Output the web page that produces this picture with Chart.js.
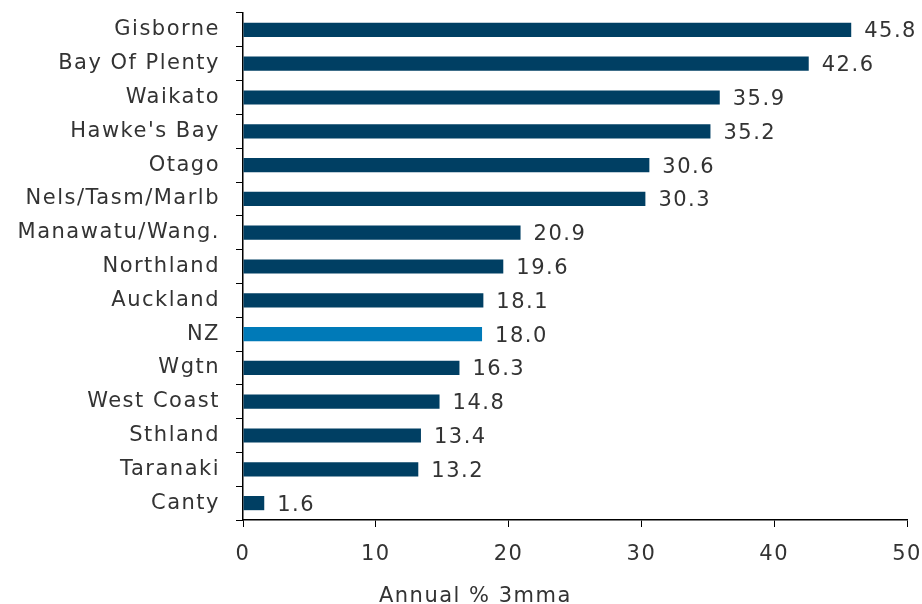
<!DOCTYPE html>
<html>
<head>
<meta charset="utf-8">
<script src="https://cdn.jsdelivr.net/npm/chart.js@4"></script>
<style>
  html, body { margin: 0; padding: 0; background: #fff; }
  #wrap { width: 922px; height: 604px; }
</style>
</head>
<body>
<div id="wrap"><canvas id="chart"></canvas></div>
<script>
// ─── Dados ──────────────────────────────────────────────
const regions = ['Gisborne', 'Bay Of Plenty', 'Waikato', "Hawke's Bay", 'Otago',
  'Nels/Tasm/Marlb', 'Manawatu/Wang.', 'Northland', 'Auckland', 'NZ', 'Wgtn',
  'West Coast', 'Sthland', 'Taranaki', 'Canty'];
const growth = [45.8, 42.6, 35.9, 35.2, 30.6, 30.3, 20.9, 19.6, 18.1, 18.0, 16.3, 14.8, 13.4, 13.2, 1.6];
const xTicks = [0, 10, 20, 30, 40, 50];
const axisTitle = 'Annual % 3mma';

const navy = '#003f63';
const nzBlue = '#007ab8';
const textCol = '#333333';
const fontFam = '"DejaVu Sans", Verdana, sans-serif';
const fontSize = 21;

// ─── Espaçamento das letras (fonte original é larga) ──
const spacing = {
  id: 'spacing',
  beforeDraw(chart) { chart.ctx.letterSpacing = '1.5px'; }
};

// ─── Rótulos de valor + título do eixo (fora do centro, como no original) ──
const valueLabels = {
  id: 'valueLabels',
  afterDraw(chart) {
    const ctx = chart.ctx;
    const meta = chart.getDatasetMeta(0);
    ctx.save();
    ctx.font = fontSize + 'px ' + fontFam;
    ctx.fillStyle = textCol;
    ctx.textBaseline = 'middle';
    ctx.textAlign = 'left';
    meta.data.forEach((bar, i) => {
      ctx.fillText(growth[i].toFixed(1), bar.x + 13, bar.y + 2);
    });
    // título do eixo x
    ctx.textAlign = 'center';
    ctx.textBaseline = 'alphabetic';
    ctx.fillText(axisTitle, chart.scales.x.getPixelForValue(17.5), chart.height - 2);
    ctx.restore();
  }
};

const ctx = document.getElementById('chart').getContext('2d');
new Chart(ctx, {
  type: 'bar',
  data: {
    labels: regions,
    datasets: [{
      data: growth,
      backgroundColor: regions.map(r => r === 'NZ' ? nzBlue : navy),
      barPercentage: 0.42,
      categoryPercentage: 1.0
    }]
  },
  options: {
    indexAxis: 'y',
    responsive: true,
    maintainAspectRatio: false,
    animation: false,
    layout: { padding: { top: 13, right: 0, left: 0, bottom: 0 } },
    plugins: {
      legend: { display: false },
      tooltip: { enabled: false }
    },
    scales: {
      x: {
        min: 0,
        max: 50,
        afterBuildTicks: axis => { axis.ticks = xTicks.map(v => ({ value: v })); },
        afterFit: axis => { axis.height = 84; axis.paddingRight = 15; axis.paddingLeft = 0; },
        grid: { drawOnChartArea: false, tickLength: 7, color: '#000', tickColor: '#000' },
        border: { color: '#000', width: 1.5 },
        ticks: { color: textCol, font: { family: fontFam, size: fontSize }, padding: 15 }
      },
      y: {
        afterFit: axis => { axis.width = 243; axis.paddingTop = 0; axis.paddingBottom = 0; },
        grid: { drawOnChartArea: false, tickLength: 7, color: '#000', tickColor: '#000', offset: true },
        border: { color: '#000', width: 1.5 },
        ticks: { color: textCol, font: { family: fontFam, size: fontSize }, padding: 16 }
      }
    }
  },
  plugins: [spacing, valueLabels]
});
</script>
</body>
</html>
